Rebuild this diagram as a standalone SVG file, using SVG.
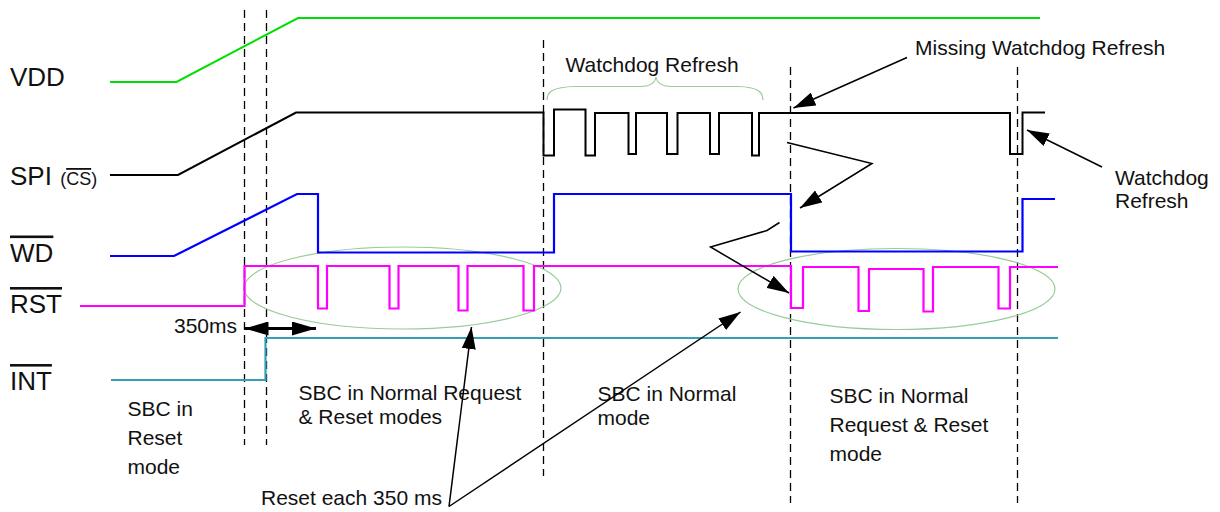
<svg xmlns="http://www.w3.org/2000/svg" width="1220" height="512" viewBox="0 0 1220 512">
<style>
text{font-family:"Liberation Sans",Arial,sans-serif;fill:#111}
.lbl{font-size:26px}
.t{font-size:21px}
.sig{fill:none;stroke-linejoin:miter}
.dash{stroke:#000;stroke-width:1.3;stroke-dasharray:8,5;fill:none}
.soft{fill:none;stroke:#98cc98;stroke-width:1.2}
.arr{stroke:#000;stroke-width:1.5;fill:none;marker-end:url(#ah)}
.ov{text-decoration:overline}
</style>
<defs>
<marker id="ah" viewBox="0 0 22 14" refX="22" refY="7" markerWidth="22" markerHeight="14" markerUnits="userSpaceOnUse" orient="auto"><path d="M0,0 L22,7 L0,14 z" fill="#000"/></marker>
<marker id="ah2" viewBox="0 0 24 14" refX="24" refY="7" markerWidth="24" markerHeight="14" markerUnits="userSpaceOnUse" orient="auto-start-reverse"><path d="M0,0 L24,7 L0,14 z" fill="#000"/></marker>
</defs>
<rect width="1220" height="512" fill="#fff"/>

<g id="gridlines">
<line class="dash" x1="244.5" y1="10" x2="244.5" y2="445"/>
<line class="dash" x1="266.5" y1="10" x2="266.5" y2="445"/>
<line class="dash" x1="543.5" y1="40" x2="543.5" y2="476"/>
<line class="dash" x1="790.5" y1="67" x2="790.5" y2="503"/>
<line class="dash" x1="1017.5" y1="67" x2="1017.5" y2="503"/>
</g>

<g id="ellipses">
<ellipse class="soft" cx="402.5" cy="288" rx="158.5" ry="41"/>
<ellipse class="soft" cx="896.5" cy="289" rx="158.5" ry="40.5"/>
<path class="soft" d="M547,100 C547,92 552,87 575,86.5 L640,86.5 C651,86.5 655,83 656,77 C657,83 661,86.5 672,86.5 L738,86.5 C758,87 763,92 763,100"/>
</g>

<g id="VDD">
<text class="lbl" x="10" y="85.5">VDD</text>
<polyline class="sig" stroke="#00e000" stroke-width="2" points="110,82 176.5,82 298,18 1040,18"/>
</g>

<g id="SPI">
<text class="lbl" x="10" y="185">SPI <tspan font-size="18" dx="1">(<tspan class="ov">CS</tspan>)</tspan></text>
<polyline class="sig" stroke="#000" stroke-width="2" points="110,175 178,175 296,112.5 543.5,112.5 543.5,155.5 554,155.5 554,109.5 585.5,109.5 585.5,155.5 595,155.5 595,113 628.5,113 628.5,154 636,154 636,113 667,113 667,154 677.5,154 677.5,113 710,113 710,154 719,154 719,113 752,113 752,155.5 759,155.5 759,113 1010,113 1010,154 1022.5,154 1022.5,112.5 1045,112.5"/>
</g>

<g id="WD">
<text class="lbl ov" x="10" y="261.5">WD</text>
<polyline class="sig" stroke="#0000ff" stroke-width="2.2" points="110,256 174,256 297,194 318,194 318,252.5 554,252.5 554,194 791,194 791,251.5 1022.5,251.5 1022.5,199 1055,199"/>
</g>

<g id="RST">
<text class="lbl ov" x="10" y="313">RST</text>
<polyline class="sig" stroke="#ff00ff" stroke-width="2.2" points="80,306 244.5,306 244.5,266 318,266 318,308.5 327,308.5 327,266 389.5,266 389.5,308.5 398.5,308.5 398.5,266 458.5,266 458.5,310.5 467.5,310.5 467.5,266 523.5,266 523.5,310.5 534,310.5 534,266 791,266 791,308 803,308 803,267 858.5,267 858.5,311 869,311 869,269 923.5,269 923.5,311.5 933,311.5 933,267 998.5,267 998.5,308.5 1010,308.5 1010,267 1058,267"/>
</g>

<g id="INT">
<text class="lbl ov" x="10" y="390">INT</text>
<polyline class="sig" stroke="#33a0b8" stroke-width="2.2" points="111,380 265.5,380 265.5,338 1058,338"/>
</g>

<g id="labels">
<text class="t" x="565.5" y="71.5">Watchdog Refresh</text>
<text class="t" x="915" y="55">Missing Watchdog Refresh</text>
<text class="t" x="1115" y="185">Watchdog</text>
<text class="t" x="1115" y="207.5">Refresh</text>
<text class="t" x="174" y="332.5">350ms</text>
<text class="t" x="127.5" y="415.5">SBC in</text>
<text class="t" x="127.5" y="444.5">Reset</text>
<text class="t" x="127.5" y="473.5">mode</text>
<text class="t" x="298.5" y="399.5">SBC in Normal Request</text>
<text class="t" x="298.5" y="423.5">&amp; Reset modes</text>
<text class="t" x="597.5" y="401">SBC in Normal</text>
<text class="t" x="597.5" y="424.5">mode</text>
<text class="t" x="829.5" y="402.5">SBC in Normal</text>
<text class="t" x="829.5" y="432">Request &amp; Reset</text>
<text class="t" x="829.5" y="461">mode</text>
<text class="t" x="261" y="505">Reset each 350 ms</text>
</g>

<g id="connectors">
<line x1="244.5" y1="328.5" x2="316" y2="328.5" stroke="#000" stroke-width="3" marker-start="url(#ah2)" marker-end="url(#ah2)"/>
<line class="arr" x1="449" y1="506.5" x2="471.5" y2="327"/>
<line class="arr" x1="449" y1="506.5" x2="740.5" y2="312"/>
<line class="arr" x1="907" y1="57.5" x2="793.5" y2="108"/>
<line class="arr" x1="1102" y1="167" x2="1027" y2="130"/>
<polyline class="arr" points="787,142.5 872,163.5 800,208"/>
<polyline class="arr" points="779.5,222.5 767,230.5 710.5,247 789,293"/>
</g>
</svg>
